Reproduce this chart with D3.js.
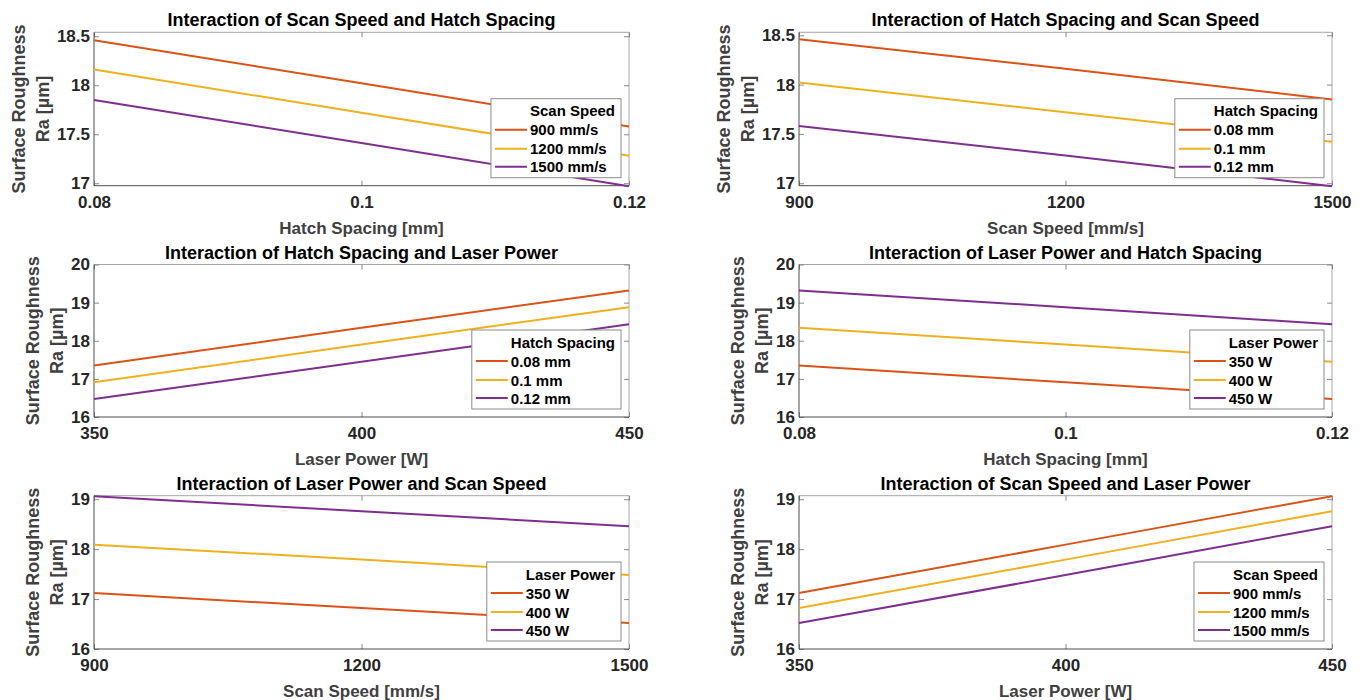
<!DOCTYPE html>
<html>
<head>
    <title>Surface Roughness Interaction Plots</title>
    <script src="https://d3js.org/d3.v7.min.js"></script>
    <style>
        body {
            margin: 0;
            background: #fff;
            font-family: "Liberation Sans", Arial, Helvetica, sans-serif;
        }
        svg text {
            font-weight: bold;
        }
    </style>
</head>
<body>
    <svg id="chart" width="1365" height="700"></svg>
    <script>
        // Factor levels
        const hatchSpacing = [0.08, 0.10, 0.12];
        const scanSpeed = [900, 1200, 1500];
        const laserPower = [350, 400, 450];

        const hatchTicks = ['0.08', '0.1', '0.12'];
        const scanTicks = ['900', '1200', '1500'];
        const powerTicks = ['350', '400', '450'];

        const hatchNames = ['0.08 mm', '0.1 mm', '0.12 mm'];
        const scanNames = ['900 mm/s', '1200 mm/s', '1500 mm/s'];
        const powerNames = ['350 W', '400 W', '450 W'];

        // Ra [um], one row per legend entry
        const scanByHatch = [          // x = hatch spacing, lines = scan speed
            [18.46, 18.02, 17.58],
            [18.16, 17.72, 17.28],
            [17.85, 17.41, 16.97]
        ];
        const hatchByScan = [          // x = scan speed, lines = hatch spacing
            [18.46, 18.16, 17.85],
            [18.02, 17.72, 17.42],
            [17.58, 17.28, 16.97]
        ];
        const hatchByPower = [         // x = laser power, lines = hatch spacing
            [17.35, 18.34, 19.32],
            [16.91, 17.90, 18.88],
            [16.47, 17.45, 18.43]
        ];
        const powerByHatch = [         // x = hatch spacing, lines = laser power
            [17.35, 16.91, 16.47],
            [18.34, 17.90, 17.45],
            [19.32, 18.88, 18.43]
        ];
        const powerByScan = [          // x = scan speed, lines = laser power
            [17.12, 16.82, 16.52],
            [18.09, 17.79, 17.48],
            [19.06, 18.76, 18.46]
        ];
        const scanByPower = [          // x = laser power, lines = scan speed
            [17.12, 18.09, 19.06],
            [16.82, 17.79, 18.76],
            [16.52, 17.48, 18.46]
        ];

        const yTicksTop = [17, 17.5, 18, 18.5];
        const yTicksMid = [16, 17, 18, 19, 20];
        const yTicksBot = [16, 17, 18, 19];

        const colors = ['#D95319', '#EDB120', '#7E2F8E'];

        const panels = [
            {title: 'Interaction of Scan Speed and Hatch Spacing', xs: hatchSpacing, xt: hatchTicks, xLabel: 'Hatch Spacing [mm]',
             data: scanByHatch, names: scanNames, legendTitle: 'Scan Speed', yDomain: [16.975, 18.54], yTicks: yTicksTop, col: 0, row: 0},
            {title: 'Interaction of Hatch Spacing and Scan Speed', xs: scanSpeed, xt: scanTicks, xLabel: 'Scan Speed [mm/s]',
             data: hatchByScan, names: hatchNames, legendTitle: 'Hatch Spacing', yDomain: [16.975, 18.53], yTicks: yTicksTop, col: 1, row: 0},
            {title: 'Interaction of Hatch Spacing and Laser Power', xs: laserPower, xt: powerTicks, xLabel: 'Laser Power [W]',
             data: hatchByPower, names: hatchNames, legendTitle: 'Hatch Spacing', yDomain: [16, 20], yTicks: yTicksMid, col: 0, row: 1},
            {title: 'Interaction of Laser Power and Hatch Spacing', xs: hatchSpacing, xt: hatchTicks, xLabel: 'Hatch Spacing [mm]',
             data: powerByHatch, names: powerNames, legendTitle: 'Laser Power', yDomain: [16, 20], yTicks: yTicksMid, col: 1, row: 1},
            {title: 'Interaction of Laser Power and Scan Speed', xs: scanSpeed, xt: scanTicks, xLabel: 'Scan Speed [mm/s]',
             data: powerByScan, names: powerNames, legendTitle: 'Laser Power', yDomain: [16, 19.07], yTicks: yTicksBot, col: 0, row: 2},
            {title: 'Interaction of Scan Speed and Laser Power', xs: laserPower, xt: powerTicks, xLabel: 'Laser Power [W]',
             data: scanByPower, names: scanNames, legendTitle: 'Scan Speed', yDomain: [16, 19.07], yTicks: yTicksBot, col: 1, row: 2}
        ];

        // plot-area boxes
        const colLeft = [94, 799], colRight = [629, 1332];
        const rowTop = [32.3, 264.5, 495.7], rowBottom = [185.7, 417, 649];

        const svg = d3.select('#chart');
        svg.append('rect').attr('width', 1365).attr('height', 700).attr('fill', '#fff');

        panels.forEach(p => {
            const L = colLeft[p.col], R = colRight[p.col];
            const T = rowTop[p.row], B = rowBottom[p.row];

            const x = d3.scaleLinear().domain(d3.extent(p.xs)).range([L, R]);
            const y = d3.scaleLinear().domain(p.yDomain).range([B, T]);

            const g = svg.append('g');

            // frame
            g.append('line').attr('x1', L).attr('x2', R).attr('y1', T).attr('y2', T).attr('stroke', '#a6a6a6');
            g.append('line').attr('x1', R).attr('x2', R).attr('y1', T).attr('y2', B).attr('stroke', '#a6a6a6');

            // inward ticks, mirrored
            const tickCol = '#8a8a8a';
            const yAx = g.append('g').attr('transform', `translate(${L},0)`)
                .call(d3.axisLeft(y).tickValues(p.yTicks).tickSize(-5).tickPadding(4).tickFormat(d => String(d)));
            const yAxR = g.append('g').attr('transform', `translate(${R},0)`)
                .call(d3.axisRight(y).tickValues(p.yTicks).tickSize(-5).tickFormat(''));
            const xAx = g.append('g').attr('transform', `translate(0,${B})`)
                .call(d3.axisBottom(x).tickValues(p.xs).tickSize(-5).tickPadding(8).tickFormat((d, i) => p.xt[i]));
            const xAxT = g.append('g').attr('transform', `translate(0,${T})`)
                .call(d3.axisTop(x).tickValues(p.xs).tickSize(-5).tickFormat(''));

            [yAx, yAxR, xAx, xAxT].forEach(a => {
                a.select('.domain').remove();
                a.selectAll('.tick line').attr('stroke', tickCol);
                a.selectAll('text')
                    .attr('fill', '#262626')
                    .style('font-size', '17px')
                    .style('font-family', '"Liberation Sans", Arial, sans-serif');
            });
            xAx.selectAll('text').attr('dy', '0.85em');

            g.append('line').attr('x1', L).attr('x2', L).attr('y1', T).attr('y2', B).attr('stroke', '#4d4d4d');
            g.append('line').attr('x1', L).attr('x2', R).attr('y1', B).attr('y2', B).attr('stroke', '#4d4d4d');

            // lines
            const line = d3.line().x((d, i) => x(p.xs[i])).y(d => y(d));
            g.append('g').selectAll('path')
                .data(p.data)
                .join('path')
                .attr('d', line)
                .attr('fill', 'none')
                .attr('stroke', (d, i) => colors[i])
                .attr('stroke-width', 2);

            // title
            g.append('text')
                .attr('x', (L + R) / 2)
                .attr('y', T - 6)
                .attr('text-anchor', 'middle')
                .attr('fill', '#000')
                .style('font-size', '18px')
                .text(p.title);

            // x label
            g.append('text')
                .attr('x', (L + R) / 2)
                .attr('y', B + 48)
                .attr('text-anchor', 'middle')
                .attr('fill', '#404040')
                .style('font-size', '17px')
                .text(p.xLabel);

            // y label, two lines, placed outside the widest tick label
            let maxW = 0;
            yAx.selectAll('text').each(function() {
                maxW = Math.max(maxW, this.getComputedTextLength());
            });
            const line2 = L - 4 - maxW - 14;
            const midY = (T + B) / 2;
            [['Surface Roughness', line2 - 24], ['Ra [µm]', line2]].forEach(([txt, cx]) => {
                g.append('text')
                    .attr('transform', `translate(${cx},${midY}) rotate(-90)`)
                    .attr('text-anchor', 'middle')
                    .attr('dominant-baseline', 'central')
                    .attr('fill', '#404040')
                    .style('font-size', '18px')
                    .text(txt);
            });

            // legend (southeast)
            const lg = g.append('g');
            const box = lg.append('rect')
                .attr('fill', '#fff')
                .attr('stroke', '#8c8c8c')
                .attr('stroke-width', 1);
            const texts = [p.legendTitle].concat(p.names);
            const rowsY = [12, 31, 50, 68];
            let tw = 0;
            texts.forEach((t, i) => {
                const el = lg.append('text')
                    .attr('x', 39)
                    .attr('y', rowsY[i])
                    .attr('dominant-baseline', 'central')
                    .attr('fill', '#000')
                    .style('font-size', '15px')
                    .text(t);
                tw = Math.max(tw, el.node().getComputedTextLength());
                if (i > 0) {
                    lg.append('line')
                        .attr('x1', 4).attr('x2', 36)
                        .attr('y1', rowsY[i]).attr('y2', rowsY[i])
                        .attr('stroke', colors[i - 1])
                        .attr('stroke-width', 2);
                }
            });
            const bw = 39 + tw + 6, bh = 79;
            box.attr('width', bw).attr('height', bh);
            lg.attr('transform', `translate(${R - 8 - bw},${B - 8 - bh})`);
        });
    </script>
</body>
</html>
